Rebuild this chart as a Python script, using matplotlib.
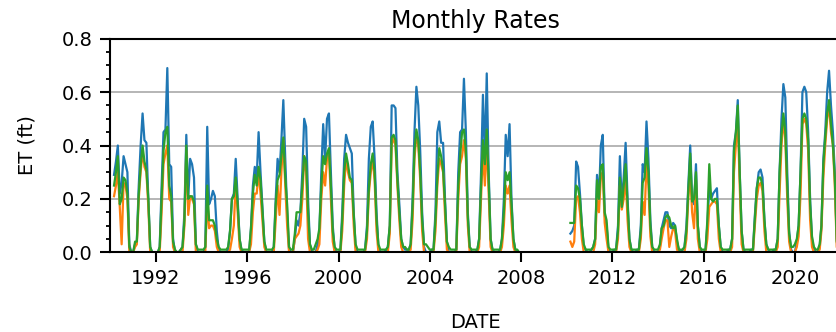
import numpy as np
import pandas as pd
import matplotlib
matplotlib.use("Agg")
import matplotlib.pyplot as plt
import matplotlib.dates as mdates
from matplotlib.ticker import MultipleLocator, FormatStrFormatter
from datetime import datetime

nan = float("nan")

# Monthly ET (ft), one row per calendar year (Jan..Dec), 1990-2021
years = list(range(1990, 2022))

et_series_1 = [
    [nan, .29, .34, .40, .22, .26, .36, .33, .30, .03, 0, 0],   # 1990
    [.03, .04, .25, .40, .52, .42, .41, .20, .02, 0, 0, 0],      # 1991
    [0, .02, .25, .45, .46, .69, .33, .32, .05, 0, 0, 0],        # 1992
    [.01, .02, .15, .44, .20, .35, .33, .28, .03, 0, 0, 0],      # 1993
    [0, .02, .47, .18, .20, .23, .21, .08, .01, 0, 0, 0],        # 1994
    [0, .01, .08, .20, .22, .35, .20, .05, .01, 0, 0, 0],        # 1995
    [0, .09, .25, .32, .28, .45, .30, .17, .04, 0, 0, 0],        # 1996
    [0, .02, .20, .35, .30, .42, .57, .35, .15, .01, 0, 0],      # 1997
    [.05, .12, .10, .15, .30, .50, .47, .20, .03, 0, 0, 0],      # 1998
    [.03, .08, .30, .48, .35, .50, .52, .30, .10, .01, 0, 0],    # 1999
    [.01, .15, .35, .44, .41, .39, .37, .15, .02, 0, 0, 0],      # 2000
    [0, .01, .10, .35, .47, .49, .35, .15, .02, 0, 0, 0],        # 2001
    [.01, .02, .10, .55, .55, .54, .30, .18, .05, .02, .01, .01],  # 2002
    [.01, .03, .20, .45, .62, .55, .38, .15, .02, 0, 0, 0],      # 2003
    [.01, .01, .15, .45, .49, .41, .41, .20, .04, 0, 0, 0],      # 2004
    [0, .01, .30, .45, .46, .65, .45, .15, .02, 0, 0, 0],        # 2005
    [.01, .05, .30, .59, .35, .67, .30, .05, .01, 0, 0, 0],      # 2006
    [.01, .05, .20, .44, .36, .48, .20, .05, .01, 0, 0, nan],    # 2007
    [nan] * 12,                                                  # 2008
    [nan] * 12,                                                  # 2009
    [nan, .07, .08, .10, .34, .32, .22, .10, .02, .01, 0, 0],    # 2010
    [.01, .02, .05, .29, .20, .40, .44, .14, .10, .01, 0, 0],    # 2011
    [.01, .01, .10, .36, .18, .28, .41, .20, .05, .01, 0, 0],    # 2012
    [.01, .01, .10, .33, .30, .49, .35, .12, .02, 0, 0, 0],      # 2013
    [.02, .09, .12, .15, .15, .10, .09, .11, .10, .04, .01, 0],  # 2014
    [.01, .02, .10, .25, .40, .20, .18, .33, .10, .02, 0, 0],    # 2015
    [.01, .10, .25, .20, .22, .23, .24, .10, .02, 0, 0, 0],      # 2016
    [.01, .01, .05, .40, .45, .57, .30, .08, .01, 0, 0, 0],      # 2017
    [.01, .01, .14, .24, .30, .31, .28, .12, .03, .01, 0, 0],    # 2018
    [.01, .01, .05, .30, .50, .63, .58, .30, .08, .01, 0, 0],    # 2019
    [.04, .10, .30, .60, .62, .60, .45, .20, .05, .01, 0, 0],    # 2020
    [.02, .10, .35, .45, .60, .68, .55, .45, .30, .05, 0, 0],    # 2021
]

et_series_2 = [
    [nan, .21, .25, .30, .17, .03, .26, .25, .20, 0, 0, 0],      # 1990
    [.02, .03, .20, .30, .38, .32, .30, .17, 0, 0, 0, 0],        # 1991
    [0, 0, .15, .33, .37, .40, .20, .19, .02, 0, 0, 0],          # 1992
    [0, 0, .10, .38, .14, .21, .20, .18, 0, 0, 0, 0],            # 1993
    [0, 0, .20, .09, .10, .10, .08, .02, 0, 0, 0, 0],            # 1994
    [0, 0, .01, .05, .10, .26, .15, .02, 0, 0, 0, 0],            # 1995
    [0, .03, .15, .22, .22, .30, .22, .12, .02, 0, 0, 0],        # 1996
    [0, 0, .12, .25, .14, .30, .42, .25, .10, 0, 0, 0],          # 1997
    [.05, .06, .07, .10, .20, .36, .30, .05, 0, 0, 0, 0],        # 1998
    [.01, .03, .20, .30, .25, .35, .37, .20, .04, 0, 0, 0],      # 1999
    [0, .08, .25, .35, .30, .27, .26, .10, 0, 0, 0, 0],          # 2000
    [0, 0, .05, .22, .30, .35, .27, .08, 0, 0, 0, 0],            # 2001
    [0, 0, .07, .40, .43, .40, .25, .12, .02, 0, 0, 0],          # 2002
    [0, .01, .12, .35, .44, .40, .27, .08, 0, 0, 0, 0],          # 2003
    [0, 0, .08, .25, .35, .33, .30, .14, .01, 0, 0, 0],          # 2004
    [0, 0, .20, .33, .36, .42, .35, .10, 0, 0, 0, 0],            # 2005
    [0, .02, .20, .38, .25, .42, .22, .02, 0, 0, 0, 0],          # 2006
    [0, .02, .10, .25, .22, .25, .12, .02, 0, 0, 0, nan],        # 2007
    [nan] * 12,                                                  # 2008
    [nan] * 12,                                                  # 2009
    [nan, .04, .02, .04, .20, .21, .15, .05, 0, 0, 0, 0],        # 2010
    [0, 0, .03, .20, .15, .28, .30, .11, .05, 0, 0, 0],          # 2011
    [0, 0, .05, .25, .16, .20, .28, .12, .02, 0, 0, 0],          # 2012
    [0, 0, .05, .19, .14, .33, .25, .06, 0, 0, 0, 0],            # 2013
    [.01, .05, .09, .12, .12, .02, .06, .09, .08, .01, 0, 0],    # 2014
    [0, 0, .05, .20, .30, .15, .09, .27, .05, 0, 0, 0],          # 2015
    [0, .05, .17, .18, .19, .19, .18, .05, 0, 0, 0, 0],          # 2016
    [0, 0, .02, .30, .40, .50, .25, .03, 0, 0, 0, 0],            # 2017
    [0, 0, .10, .20, .25, .26, .23, .08, 0, 0, 0, 0],            # 2018
    [0, 0, .02, .22, .40, .50, .42, .20, .04, 0, 0, 0],          # 2019
    [.02, .06, .22, .48, .50, .48, .38, .12, .02, 0, 0, 0],      # 2020
    [.01, .08, .28, .40, .50, .55, .45, .40, .25, .02, 0, 0],    # 2021
]

et_series_3 = [
    [nan, .25, .30, .36, .18, .20, .28, .27, .22, .02, 0, 0],    # 1990
    [.04, .04, .22, .32, .40, .34, .31, .20, .02, 0, 0, 0],      # 1991
    [0, .02, .20, .38, .45, .47, .25, .21, .04, .01, 0, 0],      # 1992
    [.01, .02, .12, .40, .20, .21, .21, .19, .03, .01, .01, .01],  # 1993
    [.01, .02, .25, .12, .12, .12, .10, .05, .02, .01, .01, .01],  # 1994
    [.01, .02, .08, .20, .21, .28, .18, .05, .01, .01, .01, .01],  # 1995
    [.01, .09, .22, .29, .25, .32, .27, .15, .04, .01, .01, .01],  # 1996
    [.01, .02, .18, .27, .29, .36, .43, .28, .18, .02, .01, .01],  # 1997
    [.07, .15, .15, .15, .25, .36, .34, .15, .03, .01, .01, .03],  # 1998
    [.05, .09, .25, .36, .33, .37, .39, .25, .08, .02, .01, .01],  # 1999
    [.01, .12, .30, .37, .33, .28, .27, .14, .03, .01, .01, .01],  # 2000
    [.01, .01, .08, .24, .33, .37, .30, .12, .03, .01, .01, .01],  # 2001
    [.01, .02, .10, .43, .44, .42, .27, .15, .05, .02, .02, .01],  # 2002
    [.01, .03, .17, .38, .46, .42, .30, .12, .03, .03, .02, .01],  # 2003
    [.01, .01, .12, .28, .39, .36, .31, .18, .04, .02, .01, .01],  # 2004
    [.01, .01, .25, .36, .45, .46, .38, .13, .02, .01, .01, .01],  # 2005
    [.01, .05, .25, .42, .33, .46, .27, .05, .01, .01, .01, .01],  # 2006
    [.01, .05, .15, .30, .27, .30, .18, .05, .01, .01, 0, nan],  # 2007
    [nan] * 12,                                                  # 2008
    [nan] * 12,                                                  # 2009
    [nan, .11, .11, .11, .25, .24, .20, .10, .03, .01, .01, .01],  # 2010
    [.01, .02, .05, .27, .20, .32, .33, .15, .12, .02, .01, .01],  # 2011
    [.01, .01, .08, .28, .17, .25, .33, .18, .05, .01, .01, .01],  # 2012
    [.01, .01, .08, .26, .28, .39, .30, .10, .02, .01, .01, .01],  # 2013
    [.03, .09, .10, .13, .14, .13, .10, .09, .10, .05, .01, .01],  # 2014
    [.01, .02, .08, .23, .37, .19, .20, .30, .10, .02, .01, .01],  # 2015
    [.01, .12, .33, .20, .19, .20, .20, .10, .02, .01, .01, .01],  # 2016
    [.01, .01, .05, .38, .45, .55, .30, .08, .01, .01, .01, .01],  # 2017
    [.01, .01, .13, .24, .28, .28, .25, .12, .03, .01, .01, .01],  # 2018
    [.01, .01, .05, .30, .44, .52, .45, .25, .07, .02, .02, .03],  # 2019
    [.05, .10, .30, .50, .52, .50, .42, .18, .06, .02, .01, .01],  # 2020
    [.03, .10, .33, .43, .52, .57, .48, .40, .28, .04, .01, .01],  # 2021
]

series_colors = ["#1f77b4", "#ff7f0e", "#2ca02c"]

# Month-end timestamps for every month of the record
month_ends = (pd.date_range(f"{years[0]}-02-01", periods=12 * len(years), freq="MS")
              - pd.Timedelta(days=1))

W, H = 836, 332
fig = plt.figure(figsize=(W / 100, H / 100), dpi=100)
ax = fig.add_axes([110.4 / W, (H - 252.3) / H, (840.6 - 110.4) / W, 213.6 / H])

for values, color in zip([et_series_1, et_series_2, et_series_3], series_colors):
    flat = np.array([v for row in values for v in row], dtype=float)
    ax.plot(month_ends, flat, color=color, lw=1.6)

ax.set_xlim(datetime(1990, 1, 1), datetime(2022, 1, 1))
ax.set_ylim(0, 0.8)

ax.xaxis.set_major_locator(mdates.YearLocator(4))
ax.xaxis.set_major_formatter(mdates.DateFormatter("%Y"))
ax.yaxis.set_major_locator(MultipleLocator(0.2))
ax.yaxis.set_minor_locator(MultipleLocator(0.05))
ax.yaxis.set_major_formatter(FormatStrFormatter("%.1f"))

ax.yaxis.grid(True, color="#b0b0b0", lw=1.3)
ax.set_axisbelow(True)

for s in ax.spines.values():
    s.set_linewidth(1.5)
    s.set_color("black")

ax.tick_params(axis="both", which="major", length=7.5, width=1.5,
               labelsize=14, color="black")
ax.tick_params(axis="x", which="major", pad=4.5)
ax.tick_params(axis="y", which="major", pad=5.5)
ax.tick_params(axis="y", which="minor", length=3, width=1.3)

ax.set_title("Monthly Rates", fontsize=17, pad=8)
ax.set_xlabel("DATE", fontsize=14, labelpad=18)
ax.set_ylabel("ET (ft)", fontsize=14, labelpad=18)

fig.savefig("out.png", dpi=100)
